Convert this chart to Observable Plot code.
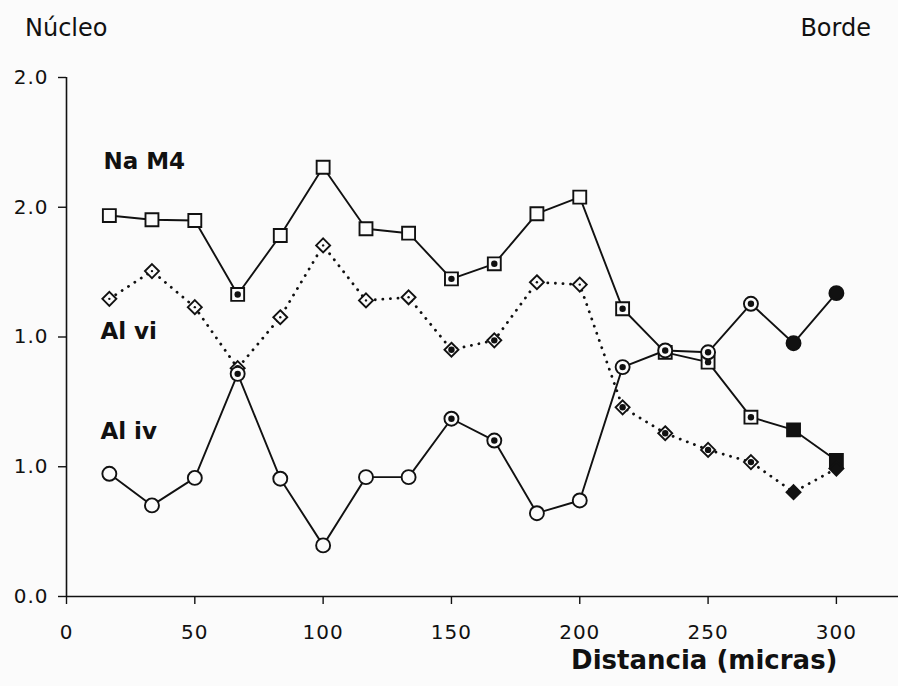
<!DOCTYPE html>
<html>
<head>
<meta charset="utf-8">
<script src="https://cdn.jsdelivr.net/npm/d3@7"></script>
<script src="https://cdn.jsdelivr.net/npm/@observablehq/plot@0.6"></script>
<style>
  body { margin: 0; background: #fbfbfb; font-family: "DejaVu Sans", sans-serif; color: #111; }
  #head { position: relative; width: 898px; height: 50px; }
  #head span { position: absolute; top: 16px; font-size: 24px; line-height: 24px; }
  #nucleo { left: 25px; }
  #borde { right: 27px; }
  #chart g[aria-label$="tick label"], #chart g[aria-label$="tick label"] text { font-size: 20px; letter-spacing: 1px; }
</style>
</head>
<body>
<div id="head"><span id="nucleo">Núcleo</span><span id="borde">Borde</span></div>
<div id="chart"></div>
<script>
// ---- data ----
const distancia = [16.7, 33.3, 50, 66.7, 83.3, 100, 116.7, 133.3, 150, 166.7, 183.3, 200, 216.7, 233.3, 250, 266.7, 283.3, 300];
const naM4 = [1.468, 1.452, 1.449, 1.164, 1.391, 1.654, 1.417, 1.400, 1.224, 1.282, 1.475, 1.539, 1.109, 0.941, 0.903, 0.691, 0.642, 0.524];
const alVI = [1.147, 1.254, 1.115, 0.880, 1.076, 1.353, 1.141, 1.153, 0.951, 0.987, 1.211, 1.202, 0.729, 0.629, 0.565, 0.518, 0.402, 0.493];
const alIV = [0.473, 0.351, 0.457, 0.858, 0.454, 0.197, 0.460, 0.460, 0.685, 0.601, 0.321, 0.370, 0.884, 0.948, 0.941, 1.128, 0.976, 1.169];
// analysis group: a = open, b = marked, c = rim (filled)
const grupo = ["a","a","a","b","a","a","a","a","b","b","a","a","b","b","b","b","c","c"];

const seriesNames = ["Na M4", "Al vi", "Al iv"];
const labelX = [14.4, 13.2, 13.2];
const labelY = [1.676, 1.02, 0.636];

const xTicks = [0, 50, 100, 150, 200, 250, 300];
const yTicks = [0, 0.5, 1, 1.5, 2];
const yTickLabels = ["0.0", "1.0", "1.0", "2.0", "2.0"];
const xLabel = "Distancia (micras)";

// ---- build table ----
const rows = distancia.map((d, i) => ({d, na: naM4[i], vi: alVI[i], iv: alIV[i], g: grupo[i]}));
const labels = seriesNames.map((s, i) => ({s, x: labelX[i], y: labelY[i]}));

const ink = "#111";
const paper = "#fbfbfb";
const sw = 1.9;

function symbolMarks(key, symbol, r) {
  return [
    Plot.dot(rows, {filter: d => d.g !== "c", x: "d", y: key, symbol, r, fill: paper, stroke: ink, strokeWidth: sw}),
    Plot.dot(rows, {filter: d => d.g === "c", x: "d", y: key, symbol, r, fill: ink, stroke: ink, strokeWidth: sw}),
    Plot.dot(rows, {filter: d => d.g === "b", x: "d", y: key, r: 3.2, fill: ink, stroke: "none"})
  ];
}

const chart = Plot.plot({
  width: 898,
  height: 636,
  marginTop: 27,
  marginBottom: 90,
  marginLeft: 66,
  marginRight: 0,
  x: {domain: [0, 324.2]},
  y: {domain: [0, 2]},
  style: {background: "transparent", fontFamily: "DejaVu Sans, sans-serif", fontSize: "18px", color: ink, overflow: "visible"},
  marks: [
    Plot.ruleY([0], {stroke: ink, strokeWidth: 1.6}),
    Plot.ruleX([0], {y1: 0, y2: 2, stroke: ink, strokeWidth: 1.6}),
    Plot.axisY({ticks: yTicks, tickFormat: d => yTickLabels[yTicks.indexOf(d)], tickSize: 8, tickPadding: 10, label: null, stroke: ink, strokeWidth: 1.4, fontSize: 20, fill: ink}),
    Plot.axisX({ticks: xTicks, tickSize: 8, tickPadding: 20, label: null, stroke: ink, strokeWidth: 1.4, fontSize: 20, fill: ink}),
    Plot.line(rows, {x: "d", y: "na", stroke: ink, strokeWidth: sw}),
    Plot.line(rows, {x: "d", y: "iv", stroke: ink, strokeWidth: sw}),
    Plot.line(rows, {x: "d", y: "vi", stroke: ink, strokeWidth: 2.8, strokeDasharray: "0.1 7.5", strokeLinecap: "round"}),
    ...symbolMarks("na", "square", 7.3),
    ...symbolMarks("vi", "diamond2", 6.3),
    Plot.dot(rows, {filter: d => d.g === "a", x: "d", y: "vi", r: 1.2, fill: ink, stroke: "none"}),
    ...symbolMarks("iv", "circle", 7),
    Plot.text(labels, {x: "x", y: "y", text: "s", textAnchor: "start", fontSize: 23, fontWeight: "bold", fill: ink}),
    Plot.text([xLabel], {frameAnchor: "bottom-right", text: d => d, textAnchor: "end", dx: -61, dy: 72, fontSize: 26, fontWeight: "bold", fill: ink})
  ]
});
document.getElementById("chart").append(chart);
</script>
</body>
</html>
